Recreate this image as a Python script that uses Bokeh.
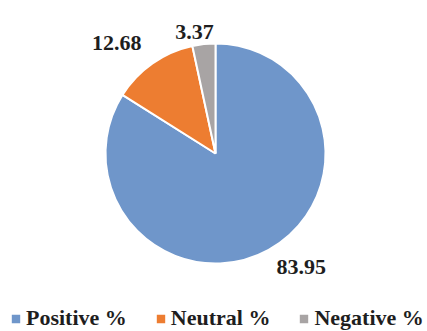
import math
from bokeh.plotting import figure
from bokeh.models import Range1d, Legend, LegendItem, ColumnDataSource
from bokeh.core.properties import value
from bokeh.embed import file_html
from bokeh.resources import INLINE

# ---- data ----
categories = ["Positive %", "Neutral %", "Negative %"]
values = [83.95, 12.68, 3.37]
colors = ["#6F96CA", "#ED7D31", "#A8A4A4"]

# ---- layout (pixel-like data space) ----
W, H = 427, 331
CX, CY, R = 215, 178, 110
FONT = "'Liberation Serif', 'Times New Roman', serif"
label_nudge = [(2, 0), (-4, 11), (-8, 0)]  # fine placement of data labels

total = sum(values)
starts, ends, mids = [], [], []
acc = 0.0
for v in values:
    a0 = math.pi / 2 - 2 * math.pi * acc / total
    acc += v
    a1 = math.pi / 2 - 2 * math.pi * acc / total
    starts.append(a0)
    ends.append(a1)
    mids.append((a0 + a1) / 2)

src = ColumnDataSource(dict(cat=categories, val=values, color=colors,
                            start=starts, end=ends))

p = figure(width=W, height=H, x_range=Range1d(0, W), y_range=Range1d(0, H),
           output_backend="svg", toolbar_location=None, min_border=0,
           outline_line_color=None)
p.axis.visible = False
p.grid.visible = False
p.background_fill_color = "white"

wr = p.wedge(x=CX, y=CY, radius=R, start_angle="start", end_angle="end",
             direction="clock", fill_color="color", line_color="white",
             line_width=2, source=src)

# data labels outside the slices
pad = 12
lx, ly, al, bl, txt = [], [], [], [], []
for v, m, (dx, dy) in zip(values, mids, label_nudge):
    c, s = math.cos(m), math.sin(m)
    lx.append(CX + (R + pad) * c + dx)
    ly.append(CY + (R + pad) * s + dy)
    al.append("left" if c > 0.3 else ("right" if c < -0.3 else "center"))
    bl.append("alphabetic" if s > 0 else "top")
    txt.append(f"{v:.2f}")
lsrc = ColumnDataSource(dict(x=lx, y=ly, t=txt, a=al, b=bl))
p.text(x="x", y="y", text="t", text_align="a", text_baseline="b", source=lsrc,
       text_font=value(FONT), text_font_style="bold", text_font_size="22px",
       text_color="#1E1E1E")

legend = Legend(items=[LegendItem(label=c, renderers=[wr], index=i)
                       for i, c in enumerate(categories)],
                orientation="horizontal", location=(9, 0),
                padding=0, margin=0, spacing=27, label_standoff=4,
                glyph_width=13, glyph_height=13,
                label_text_font=FONT, label_text_font_style="bold",
                label_text_font_size="22px", label_text_color="#1E1E1E",
                background_fill_alpha=0, border_line_alpha=0)
p.add_layout(legend)

open("out.html", "w").write(file_html(p, INLINE))
